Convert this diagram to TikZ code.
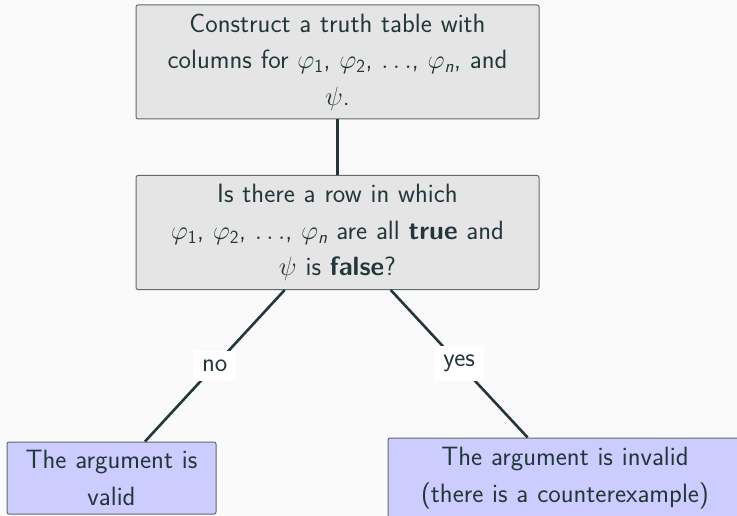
\RequirePackage{fix-cm}
\documentclass[tikz,border=0pt]{standalone}
\usepackage{amsmath}
\usepackage{fontspec}
\definecolor{fg}{HTML}{23373B}
\definecolor{bgc}{HTML}{FAFAFA}
\definecolor{boxfill}{HTML}{E5E5E5}
\definecolor{boxdraw}{HTML}{5E6B6D}
\definecolor{leaf}{HTML}{CCCCFF}
\newcommand{\phii}[1]{\varphi_{\textsf{#1}}}
\newcommand{\phin}{\varphi_{\textsf{\itshape n}}}
\begin{document}
\begin{tikzpicture}[x=1pt,y=-1pt,
  font=\sffamily\fontsize{26.5}{36.5}\selectfont, text=fg,
  stepbox/.style={draw=boxdraw, line width=1pt, rounded corners=2pt, fill=boxfill,
    align=center, text width=380pt, inner xsep=11.5pt, inner ysep=0pt,
    minimum width=403pt, minimum height=114pt},
  leafbox/.style={draw=boxdraw, line width=1pt, rounded corners=2pt, fill=leaf,
    align=center, inner xsep=4pt, inner ysep=0pt},
  conn/.style={draw=fg, line width=2.6pt},
  lbl/.style={fill=white, inner xsep=9pt, inner ysep=9pt}]
\clip (0,0) rectangle (737,516);
\fill[bgc] (0,0) rectangle (737,516);
\node[stepbox] (top) at (337.5,62) {Construct a truth table with\\ columns for $\phii{1}$, $\phii{2}$, $\ldots$, $\phin$, and\\ $\psi$.};
\node[stepbox] (mid) at (337.5,232.5) {Is there a row in which\\ $\phii{1}$, $\phii{2}$, $\ldots$, $\phin$ are all \textbf{true} and\\ $\psi$ is \textbf{false}?};
\node[leafbox, text width=201pt, minimum height=72pt] (valid) at (111.5,478) {The argument is\\ valid};
\node[leafbox, text width=346pt, minimum height=80pt] (invalid) at (565,478) {The argument is invalid\\ (there is a counterexample)};
\draw[conn] (top) -- (mid);
\draw[conn] (mid) -- node[lbl] (no) {no} (valid);
\draw[conn] (mid) -- node[lbl] (yes) {yes} (invalid);
\end{tikzpicture}
\end{document}
